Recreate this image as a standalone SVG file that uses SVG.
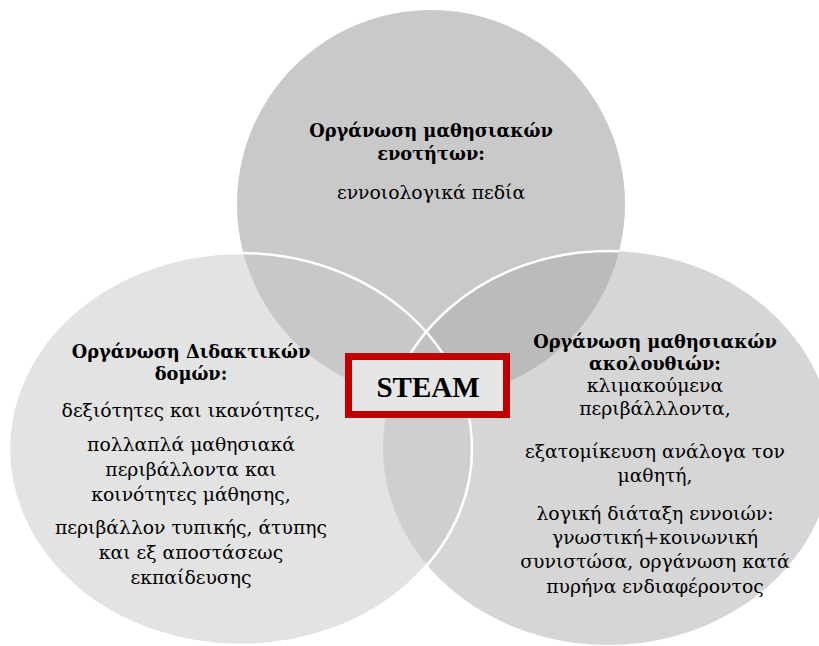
<svg xmlns="http://www.w3.org/2000/svg" width="819" height="646" viewBox="0 0 819 646">
  <style>
    .t { font-family: "DejaVu Serif", "Liberation Serif", serif; fill: #000; text-anchor: middle; }
    .b { font-weight: bold; font-size: 17.8px; }
    .r { font-size: 18.8px; }
    .ring { fill: none; stroke: #ffffff; stroke-width: 2.5; }
  </style>
  <defs>
    <clipPath id="clipTop">
      <circle cx="431" cy="204" r="194"/>
    </clipPath>
  </defs>

  <!-- Venn circles -->
  <g id="circle-top">
    <circle cx="431" cy="204" r="194" fill="#c9c9c9"/>
  </g>
  <g id="circle-right">
    <ellipse cx="608" cy="448" rx="225" ry="197" fill="#adadad" fill-opacity="0.5"/>
  </g>
  <g id="circle-left">
    <ellipse cx="240.5" cy="449" rx="231.5" ry="196" fill="#c8c8c8" fill-opacity="0.5"/>
  </g>

  <!-- outlines -->
  <g id="connectors">
    <ellipse class="ring" cx="608" cy="448" rx="225" ry="197" clip-path="url(#clipTop)"/>
    <ellipse class="ring" cx="240.5" cy="449" rx="231.5" ry="196"/>
  </g>

  <!-- labels -->
  <g id="label-top">
    <text class="t b" x="431" y="137">Οργάνωση μαθησιακών</text>
    <text class="t b" x="431" y="160">ενοτήτων:</text>
    <text class="t r" x="431" y="199">εννοιολογικά πεδία</text>
  </g>

  <g id="label-left">
    <text class="t b" x="191" y="358">Οργάνωση Διδακτικών</text>
    <text class="t b" x="191" y="380">δομών:</text>
    <text class="t r" x="191" y="417">δεξιότητες και ικανότητες,</text>
    <text class="t r" x="191" y="451">πολλαπλά μαθησιακά</text>
    <text class="t r" x="191" y="476">περιβάλλοντα και</text>
    <text class="t r" x="191" y="501">κοινότητες μάθησης,</text>
    <text class="t r" x="191" y="534">περιβάλλον τυπικής, άτυπης</text>
    <text class="t r" x="191" y="559">και εξ αποστάσεως</text>
    <text class="t r" x="191" y="584">εκπαίδευσης</text>
  </g>

  <g id="label-right">
    <text class="t b" x="655" y="348">Οργάνωση μαθησιακών</text>
    <text class="t b" x="655" y="370">ακολουθιών:</text>
    <text class="t r" x="655" y="392">κλιμακούμενα</text>
    <text class="t r" x="655" y="415">περιβάλλλοντα,</text>
    <text class="t r" x="655" y="458">εξατομίκευση ανάλογα τον</text>
    <text class="t r" x="655" y="482">μαθητή,</text>
    <text class="t r" x="655" y="520">λογική διάταξη εννοιών:</text>
    <text class="t r" x="655" y="544">γνωστική+κοινωνική</text>
    <text class="t r" x="655" y="568">συνιστώσα, οργάνωση κατά</text>
    <text class="t r" x="655" y="593">πυρήνα ενδιαφέροντος</text>
  </g>

  <!-- centre label -->
  <g id="steam">
    <rect x="348.5" y="356.5" width="158" height="58" fill="#e6e6e6" stroke="#c00000" stroke-width="7"/>
    <text x="428" y="397" font-family="Liberation Serif, serif" font-size="29" font-weight="bold" text-anchor="middle">STEAM</text>
  </g>
</svg>
